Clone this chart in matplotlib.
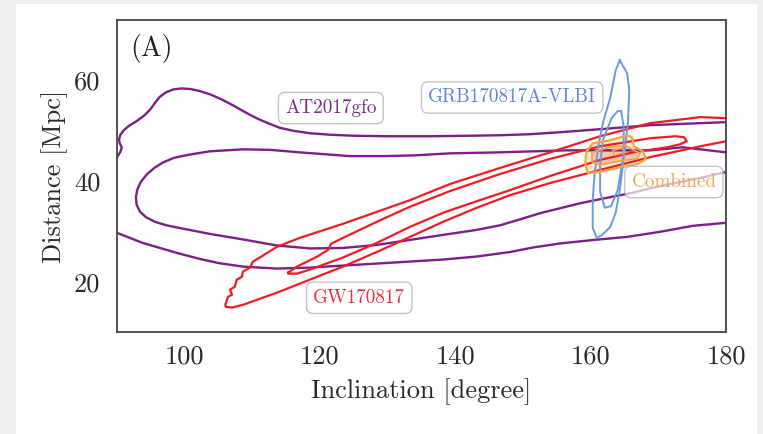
import matplotlib
matplotlib.use("Agg")
import matplotlib.pyplot as plt
from matplotlib.patches import Rectangle

plt.rcParams["font.family"] = "cmr10"
plt.rcParams["axes.unicode_minus"] = False

x_ticks = [100, 120, 140, 160, 180]
y_ticks = [20, 40, 60]

# AT2017gfo (kilonova) contours, open at the plot edges
at_outer_top = [(90.0, 44.75), (90.5, 45.8), (90.7, 46.7), (90.4, 47.5), (90.3, 48.3),
                (90.5, 49.2), (91.0, 50.1), (91.8, 51.0), (92.9, 51.9), (94.0, 53.0),
                (94.9, 54.2), (95.6, 55.5), (96.3, 56.7), (97.2, 57.6), (98.3, 58.2),
                (99.5, 58.4), (100.8, 58.3), (102.2, 57.9), (103.8, 57.2), (105.5, 56.2),
                (107.2, 55.0), (108.9, 53.7), (110.6, 52.5), (112.3, 51.5), (114.0, 50.6),
                (116.0, 50.0), (118.5, 49.5), (121.5, 49.2), (125.0, 49.0), (130.0, 48.9),
                (136.3, 48.9), (142.0, 49.0), (146.6, 49.1), (151.0, 49.3), (155.5, 49.7),
                (161.4, 50.3), (168.8, 51.1), (176.2, 51.5), (180.0, 51.7)]
at_outer_bottom = [(90.0, 29.7), (93.8, 27.7), (98.9, 25.7), (102.0, 24.6), (105.0, 23.7),
                   (108.6, 23.0), (113.6, 22.6), (118.5, 22.8), (123.4, 23.2), (128.4, 23.6),
                   (133.3, 24.0), (138.2, 24.4), (143.2, 25.0), (148.1, 25.9), (151.5, 26.8),
                   (155.5, 27.6), (160.5, 28.3), (165.4, 28.9), (170.2, 29.9), (175.1, 31.1),
                   (180.0, 31.7)]
at_inner = [(180.0, 45.7), (176.2, 46.3), (173.6, 46.7), (168.8, 46.1), (161.4, 46.1),
            (156.5, 46.1), (146.6, 45.7), (139.2, 45.5), (134.0, 45.1), (129.3, 44.95),
            (124.4, 44.95), (120.0, 45.4), (117.0, 45.7), (112.6, 46.2), (108.6, 46.3),
            (103.7, 45.9), (100.5, 45.2), (98.4, 44.6), (96.8, 43.7), (95.5, 42.6),
            (94.4, 41.3), (93.5, 39.8), (93.0, 38.3), (92.8, 36.8), (92.9, 35.3),
            (93.4, 33.9), (94.3, 32.8), (95.6, 31.9), (97.3, 31.2), (99.5, 30.6),
            (103.7, 29.5), (108.6, 28.4), (113.6, 27.2), (118.5, 26.6), (123.4, 26.7),
            (128.4, 27.3), (133.3, 28.3), (138.2, 29.3), (143.2, 30.3), (146.6, 31.2),
            (149.6, 32.4), (152.5, 33.6), (155.5, 34.6), (158.5, 35.6), (161.4, 36.4),
            (166.3, 37.7), (170.2, 39.0), (176.2, 40.6), (180.0, 41.8)]

# GW170817 contours
gw_outer = [(180.0, 52.5), (176.2, 52.7), (168.8, 51.5), (161.4, 48.9), (154.0, 45.7),
            (146.6, 42.6), (139.2, 39.4), (133.3, 36.2), (123.4, 31.5), (117.0, 28.7),
            (113.6, 26.9), (111.1, 24.8), (110.1, 24.0), (109.65, 22.8), (108.6, 22.0),
            (108.5, 21.0), (107.7, 20.4), (107.4, 19.0), (106.7, 18.4), (107.0, 17.4),
            (106.4, 17.0), (106.0, 15.4), (106.1, 15.0), (107.0, 14.85), (108.6, 15.4),
            (113.6, 17.8), (118.5, 20.4), (123.4, 23.0), (128.4, 25.9), (133.3, 28.9),
            (138.2, 31.9), (143.2, 34.7), (148.1, 37.2), (154.0, 39.6), (161.4, 42.2),
            (168.8, 44.75), (176.2, 46.9), (180.0, 47.9)]
gw_inner = [(115.3, 21.8), (116.6, 23.0), (119.6, 25.0), (121.2, 26.3), (121.6, 27.5),
            (123.4, 28.7), (128.4, 31.9), (133.3, 34.9), (139.2, 38.0), (146.6, 41.4),
            (154.0, 44.4), (161.4, 46.9), (168.8, 48.5), (172.5, 48.9), (173.8, 48.7),
            (174.2, 47.9), (173.2, 47.3), (171.3, 46.7), (166.3, 45.7), (161.4, 44.2),
            (154.0, 41.0), (148.1, 38.2), (143.2, 36.0), (138.2, 33.7), (133.3, 30.9),
            (128.4, 27.7), (123.4, 24.8), (118.5, 22.4), (116.6, 21.6), (115.3, 21.6)]

# GRB170817A-VLBI contours
grb_outer = [(164.3, 64.0), (165.4, 61.4), (165.7, 58.0), (165.5, 51.5), (164.9, 44.75),
             (164.3, 38.2), (163.7, 33.7), (162.9, 30.9), (161.7, 29.3), (160.9, 28.7),
             (160.3, 30.7), (160.3, 36.2), (160.6, 41.6), (161.1, 46.7), (161.8, 51.5),
             (162.9, 56.6), (163.7, 62.0)]
grb_inner = [(164.5, 53.9), (164.9, 50.7), (164.8, 44.75), (164.0, 38.2), (163.0, 35.0),
             (162.1, 34.7), (161.4, 37.8), (161.4, 43.2), (161.8, 48.1), (163.1, 52.5),
             (164.0, 53.9)]

# Combined contours
comb_outer = [(159.5, 46.1), (160.3, 47.5), (162.9, 48.1), (165.4, 49.1), (166.1, 48.7),
              (166.4, 46.9), (167.7, 45.9), (168.2, 44.4), (167.0, 43.4), (163.9, 42.6),
              (161.4, 41.8), (159.6, 41.6), (159.2, 43.4), (159.3, 45.1)]
comb_inner = [(160.2, 45.7), (162.6, 46.7), (165.1, 47.1), (166.1, 46.3), (167.3, 45.5),
              (166.8, 44.4), (164.3, 44.0), (161.4, 43.2), (160.2, 43.8)]
comb_core = [(163.3, 46.1), (164.6, 46.5), (165.1, 45.7), (163.5, 45.1)]

purple = "#7d1f88"
red = "#ee1c25"
blue = "#6a9be0"
orange = "#f5a446"


def xy(pts, close=False):
    xs = [p[0] for p in pts]
    ys = [p[1] for p in pts]
    if close:
        xs.append(xs[0])
        ys.append(ys[0])
    return xs, ys


fig = plt.figure(figsize=(7.63, 4.34), dpi=100, facecolor="#efefef")
fig.patches.append(Rectangle((16 / 763, 0), 741 / 763, 430 / 434,
                             transform=fig.transFigure, facecolor="white",
                             edgecolor="none", zorder=-10))
ax = fig.add_axes([117 / 763, 102 / 434, 609 / 763, 312 / 434])

lw = 1.7
ax.plot(*xy(at_outer_top), color=purple, lw=lw, solid_joinstyle="round")
ax.plot(*xy(at_outer_bottom), color=purple, lw=lw, solid_joinstyle="round")
ax.plot(*xy(at_inner), color=purple, lw=lw, solid_joinstyle="round")
ax.plot(*xy(gw_outer), color=red, lw=1.6, solid_joinstyle="round")
ax.plot(*xy(gw_inner, True), color=red, lw=1.6, solid_joinstyle="round")
ax.plot(*xy(grb_outer, True), color=blue, lw=1.4, solid_joinstyle="round")
ax.plot(*xy(grb_inner, True), color=blue, lw=1.4, solid_joinstyle="round")
ax.fill(*xy(comb_outer), color=orange, alpha=0.25, lw=0)
ax.fill(*xy(comb_inner), color="#e8845a", alpha=0.35, lw=0)
ax.plot(*xy(comb_outer, True), color=orange, lw=1.6, solid_joinstyle="round")
ax.plot(*xy(comb_inner, True), color=orange, lw=1.3, solid_joinstyle="round")
ax.plot(*xy(comb_core, True), color=orange, lw=1.0)

box = dict(boxstyle="round,pad=0.35", facecolor="white", edgecolor="#aaaaaa", alpha=0.7)
ax.text(121.6, 54.5, "AT2017gfo", color="#7a2a84", fontsize=13.8, ha="center", va="center", bbox=box)
ax.text(148.4, 56.6, "GRB170817A-VLBI", color="#5b86d6", fontsize=13.8, ha="center", va="center", bbox=box)
ax.text(125.8, 16.8, "GW170817", color="#e8303a", fontsize=13.8, ha="center", va="center", bbox=box)
ax.text(172.3, 39.8, "Combined", color="#f0a552", fontsize=13.8, ha="center", va="center", bbox=box)
ax.text(0.022, 0.91, "(A)", transform=ax.transAxes, fontsize=20, ha="left", va="center", color="#222222")

ax.set_xlim(90, 180)
ax.set_ylim(10, 72)
ax.set_xticks(x_ticks)
ax.set_xticklabels([str(t) for t in x_ticks])
ax.set_yticks(y_ticks)
ax.set_yticklabels([str(t) for t in y_ticks])
ax.tick_params(length=0, labelsize=19, colors="#2a2a2a")
ax.tick_params(axis="x", pad=9)
ax.tick_params(axis="y", pad=12)
ax.set_xlabel("Inclination [degree]", fontsize=19, color="#2a2a2a", labelpad=7)
ax.set_ylabel("Distance [Mpc]", fontsize=19, color="#2a2a2a", labelpad=4)
for s in ax.spines.values():
    s.set_color("#444444")
    s.set_linewidth(1.3)

fig.savefig("out.png", dpi=100, facecolor=fig.get_facecolor())
